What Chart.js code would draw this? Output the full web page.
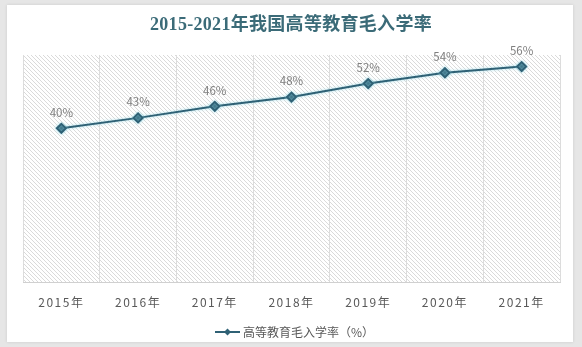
<!DOCTYPE html>
<html>
<head>
<meta charset="utf-8">
<script src="https://cdn.jsdelivr.net/npm/chart.js@4.4.1/dist/chart.umd.min.js"></script>
<style>
    html, body { margin: 0; padding: 0; }
    body { width: 582px; height: 347px; background: #e6e6e6; position: relative; overflow: hidden; }
    .card { position: absolute; left: 7px; top: 5px; width: 566px; height: 337px; background: #fff; box-shadow: 0 0 3px rgba(0,0,0,0.12); }
    #box { position: absolute; left: 0; top: 0; width: 582px; height: 347px; }
</style>
</head>
<body>
<div class="card"></div>
<div id="box"><canvas id="rateChart" width="582" height="347"></canvas></div>
<script>
// data dari gambar
const years = ['2015年', '2016年', '2017年', '2018年', '2019年', '2020年', '2021年'];
const rates = [40, 42.7, 45.7, 48.1, 51.6, 54.4, 56];
const seriesName = '高等教育毛入学率（%）';
const chartTitle = '2015-2021年我国高等教育毛入学率';

const lineColor = '#2f6175';
const cjkFont = "'Noto Sans CJK SC', 'Noto Sans', sans-serif";

// pola garis miring (\\\) untuk area plot
function makeHatch(ctx) {
    const c = document.createElement('canvas');
    c.width = 4; c.height = 4;
    const g = c.getContext('2d');
    g.fillStyle = '#ffffff';
    g.fillRect(0, 0, 4, 4);
    g.fillStyle = '#dadada';
    for (let i = 0; i < 4; i++) g.fillRect(i, i, 1, 1);
    return ctx.createPattern(c, 'repeat');
}

const hatchBg = {
    id: 'hatchBg',
    beforeDraw(chart) {
        const { ctx, chartArea: a } = chart;
        ctx.save();
        ctx.fillStyle = makeHatch(ctx);
        ctx.fillRect(a.left, a.top, a.right - a.left, a.bottom - a.top);
        ctx.restore();
        // spasi huruf untuk label sumbu x
        ctx.letterSpacing = '1.5px';
    },
    beforeDatasetsDraw(chart) {
        chart.ctx.letterSpacing = '0px';
    }
};

// glow tipis di garis
const lineGlow = {
    id: 'lineGlow',
    beforeDatasetDraw(chart) {
        chart.ctx.save();
        chart.ctx.shadowColor = 'rgba(140, 215, 230, 0.8)';
        chart.ctx.shadowBlur = 3;
    },
    afterDatasetDraw(chart) {
        chart.ctx.restore();
    }
};

// judul, label persen di atas titik, legend manual
const labelsAndLegend = {
    id: 'labelsAndLegend',
    afterDraw(chart) {
        const ctx = chart.ctx;
        const meta = chart.getDatasetMeta(0);
        ctx.save();

        ctx.letterSpacing = '0.3px';
        ctx.font = "bold 18px 'Liberation Serif', 'Noto Sans CJK SC', serif";
        ctx.fillStyle = '#3b6b78';
        ctx.textAlign = 'center';
        ctx.textBaseline = 'middle';
        ctx.fillText(chartTitle, 291, 25);

        ctx.letterSpacing = '0px';
        ctx.font = '11.5px ' + cjkFont;
        ctx.fillStyle = '#7f7f7f';
        meta.data.forEach((pt, i) => {
            ctx.fillText(Math.round(rates[i]) + '%', pt.x, pt.y - 16);
        });

        // legend
        const ly = 332;
        ctx.strokeStyle = lineColor;
        ctx.lineWidth = 2;
        ctx.beginPath();
        ctx.moveTo(215, ly);
        ctx.lineTo(240, ly);
        ctx.stroke();
        ctx.fillStyle = lineColor;
        ctx.beginPath();
        ctx.moveTo(227.5, ly - 3.5);
        ctx.lineTo(231, ly);
        ctx.lineTo(227.5, ly + 3.5);
        ctx.lineTo(224, ly);
        ctx.closePath();
        ctx.fill();
        ctx.font = '12px ' + cjkFont;
        ctx.fillStyle = '#595959';
        ctx.textAlign = 'left';
        ctx.fillText(seriesName, 243, ly);
        ctx.restore();
    }
};

const ctx = document.getElementById('rateChart');

new Chart(ctx, {
    type: 'line',
    data: {
        labels: years,
        datasets: [{
            label: seriesName,
            data: rates,
            borderColor: lineColor,
            backgroundColor: lineColor,
            borderWidth: 2,
            tension: 0,
            pointStyle: 'rectRot',
            pointRadius: 4.5,
            pointBackgroundColor: lineColor,
            pointBorderColor: lineColor,
            fill: false
        }]
    },
    options: {
        responsive: false,
        animation: false,
        layout: { padding: { left: 23, right: 22, top: 55, bottom: 24 } },
        plugins: {
            legend: { display: false },
            tooltip: { enabled: false },
            title: { display: false }
        },
        scales: {
            x: {
                offset: true,
                grid: { display: true, offset: true, color: '#dcdcdc', drawTicks: false },
                border: { display: true, color: '#d0d0d0' },
                ticks: { color: '#595959', padding: 13, font: { family: cjkFont, size: 12 } }
            },
            y: {
                display: false,
                min: 0,
                max: 59
            }
        }
    },
    plugins: [hatchBg, lineGlow, labelsAndLegend]
});
</script>
</body>
</html>
